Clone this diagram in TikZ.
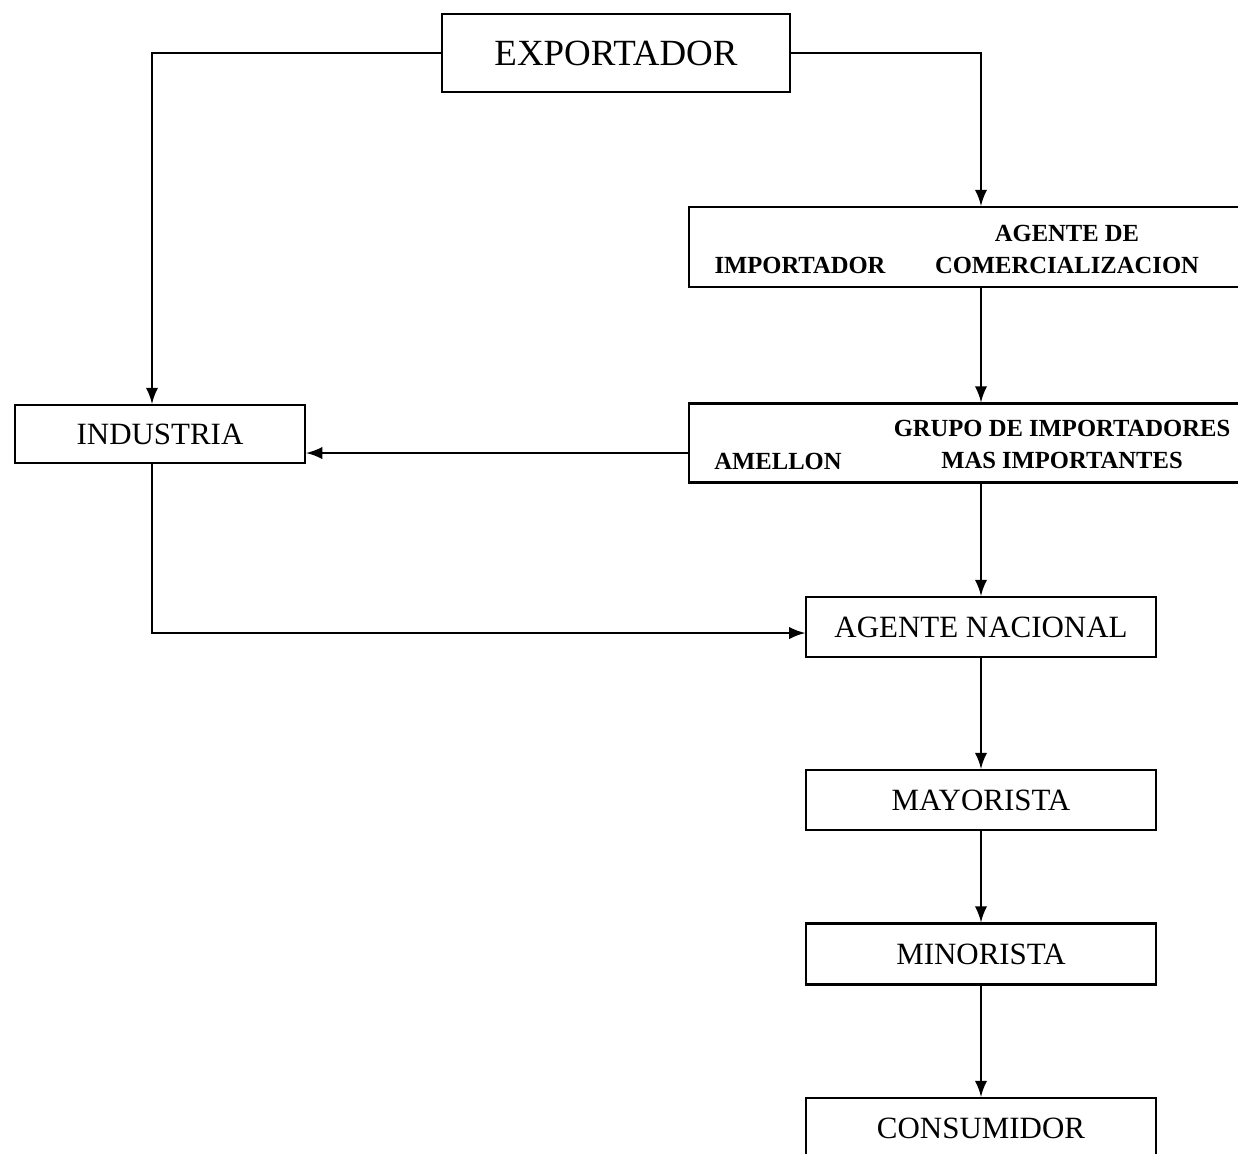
\documentclass[tikz,border=0pt]{standalone}
\usepackage{fontspec}
\setmainfont{Liberation Serif}
\begin{document}
\begin{tikzpicture}[
    x=0.01cm, y=-0.01cm,
    box/.style={rectangle, draw, inner sep=0pt},
    lbl/.style={font=\fontsize{8.8}{10}\selectfont},
    sml/.style={font=\fontsize{7}{9.1}\selectfont\bfseries, align=center, inner sep=0pt},
    >=latex,
    line width=0.6pt
]
\useasboundingbox (0,0) rectangle (1238,1153);
\clip (0,0) rectangle (1238,1153);

% Boxes (sizes in mm, 1 px = 0.1 mm)
\node[box, minimum width=34.8mm, minimum height=7.8mm] (exp) at (616,53) {};
\node[box, minimum width=55.5mm, minimum height=8.0mm] (imp) at (967,247) {};
\node[box, minimum width=55.5mm, minimum height=7.9mm] (grp) at (967,443) {};
\node[box, minimum width=29.0mm, minimum height=5.8mm] (ind) at (160,434) {};
\node[box, minimum width=34.9mm, minimum height=6.0mm] (nac) at (981,627) {};
\node[box, minimum width=34.9mm, minimum height=6.0mm] (may) at (981,800) {};
\node[box, minimum width=34.9mm, minimum height=6.1mm] (min) at (981,954) {};
\node[box, minimum width=34.9mm, minimum height=6.0mm] (con) at (981,1128) {};

% Labels
\node[font=\fontsize{10.5}{12}\selectfont] (texp) at (exp) {EXPORTADOR};
\node[lbl] (tind) at (ind) {INDUSTRIA};
\node[lbl] (tnac) at (nac) {AGENTE NACIONAL};
\node[lbl] (tmay) at (may) {MAYORISTA};
\node[lbl] (tmin) at (min) {MINORISTA};
\node[lbl] (tcon) at (con) {CONSUMIDOR};

\node[sml] (timp) at (800,265) {IMPORTADOR};
\node[sml] (tage) at (1067,249) {AGENTE DE\\COMERCIALIZACION};
\node[sml] (tame) at (778,461) {AMELLON};
\node[sml] (tgrp) at (1062,444) {GRUPO DE IMPORTADORES\\MAS IMPORTANTES};

% Connectors
\coordinate (rx) at (981,0);
\coordinate (lx) at (152,0);
\draw[->] (exp.west) -| (ind.north -| lx);
\draw[->] (exp.east) -| (imp.north -| rx);
\draw[->] (imp.south -| rx) -- (grp.north -| rx);
\draw[->] ([yshift=-1mm]grp.west) -- ([yshift=-1mm]grp.west -| ind.east);
\draw[->] (grp.south -| rx) -- (nac.north);
\draw[->] (ind.south -| lx) |- ([yshift=-0.6mm]nac.west);
\draw[->] (nac.south) -- (may.north);
\draw[->] (may.south) -- (min.north);
\draw[->] (min.south) -- (con.north);

\end{tikzpicture}
\end{document}
